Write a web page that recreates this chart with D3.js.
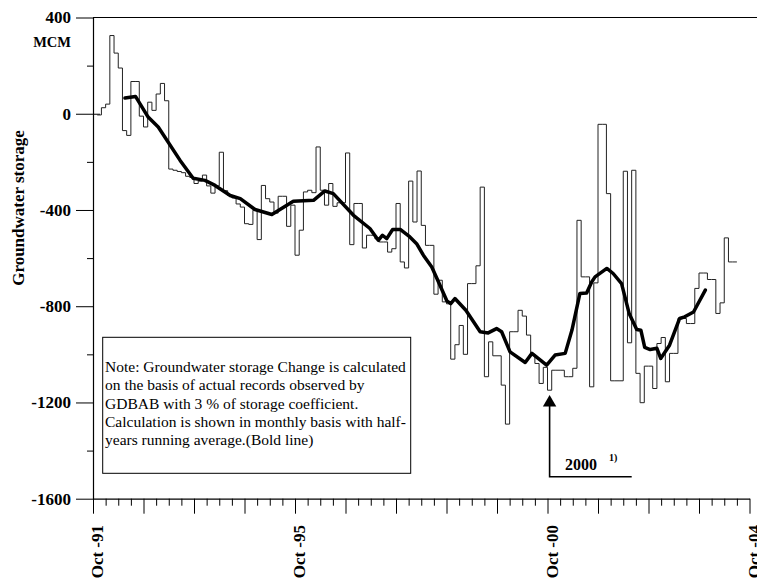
<!DOCTYPE html>
<html>
<head>
<meta charset="utf-8">
<script src="https://cdn.jsdelivr.net/npm/d3@7/dist/d3.min.js"></script>
<style>
  html, body { margin: 0; padding: 0; background: #fff; }
  svg { display: block; font-family: "Liberation Serif", "Times New Roman", serif; }
</style>
</head>
<body>
<svg id="chart" width="757" height="579"></svg>
<script>
// Monthly groundwater storage change (MCM); the first value is month 1 after Oct-91
const stepStartMonth = 1;
const storageMonthly = [
  -5, 25, 40, 325, 252, 190, -70, -90, 134, 134, -10, -55, 48, 14, 82, 126, 54,
  -230, -235, -240, -245, -260, -265, -290, -280, -255, -300, -330, -300, -160, -320, -340, -350, -375,
  -388, -457, -460, -401, -523, -298, -353, -367, -413, -343, -343, -468, -380, -588, -484, -325,
  -318, -328, -138, -318, -380, -290, -385, -370, -370, -163, -544, -373, -373, -558, -505, -505,
  -520, -533, -533, -575, -561, -373, -616, -641, -280, -450, -238, -464, -547, -547, -750, -692,
  -782, -790, -1020, -960, -880, -1000, -706, -706, -632, -305, -1093, -948, -1006, -1006, -1128, -1290,
  -906, -906, -817, -841, -920, -1000, -1038, -1121, -1054, -1149, -1066, -1066, -1066, -1093, -1093, -1058,
  -443, -678, -678, -1135, -703, -44, -44, -332, -1110, -1110, -1110, -239, -952, -235, -1079, -1201,
  -1049, -1049, -1142, -955, -930, -1114, -996, -996, -851, -851, -872, -872, -726, -662, -662, -689,
  -689, -830, -786, -516, -616, -616
];

// Half-year running average (bold line): month offset from Oct-91 and value
const avgMonths = [
  7.6, 10.1, 13.1, 15.5, 20.7, 23.8, 26.6, 29.0, 32.6, 35.0, 38.5, 42.5, 47.6, 52.4, 55.1, 57.1,
  61.9, 65.8, 67.8, 68.8, 69.8, 71.2, 73.0, 75.3, 76.9, 78.5, 80.5, 82.1, 84.1, 85.0, 86.0, 88.6,
  92.0, 93.9, 95.9, 97.1, 99.1, 102.7, 104.3, 107.8, 109.8, 112.2, 113.8, 115.7, 117.3, 118.5, 119.3,
  122.1, 123.6, 125.6, 127.4, 129.2, 130.2, 131.1, 132.4, 134.0, 134.9, 137.0, 139.4, 140.6, 142.7, 145.5
];
const avgValues = [
  65, 72, -14, -55, -194, -268, -277, -298, -340, -353, -398, -419, -364, -360, -321, -332,
  -422, -477, -526, -505, -519, -481, -481, -512, -540, -588, -637, -699, -778, -789, -768, -817,
  -906, -911, -893, -906, -990, -1034, -996, -1045, -1003, -996, -900, -747, -745, -699, -678,
  -643, -664, -706, -830, -897, -900, -971, -980, -975, -1017, -962, -851, -844, -824, -733
];

const yTickValues = [400, 0, -400, -800, -1200, -1600];
const yTickLabels = ["400", "0", "-400", "-800", "-1200", "-1600"];
const xLabelMonths = [0, 48, 108, 156];
const xLabels = ["Oct -91", "Oct -95", "Oct -00", "Oct -04"];
const noteLines = [
  "Note: Groundwater storage Change is calculated",
  "on the basis of actual records observed by",
  "GDBAB with 3 % of storage coefficient.",
  "Calculation is shown in monthly basis with half-",
  "years running average.(Bold line)"
];
const arrowLabel = "2000";
const arrowNote = "1)";

const svg = d3.select("#chart");

const x = d3.scaleLinear().domain([0, 156]).range([93, 749.5]);
const y = d3.scaleLinear().domain([-1600, 400]).range([498.7, 17.5]);

// Top frame line at the 400 level
svg.append("line")
  .attr("x1", 93).attr("x2", 757)
  .attr("y1", y(400)).attr("y2", y(400))
  .attr("stroke", "#000").attr("stroke-width", 1.2);

// Y axis: major ticks every 400 with labels, minor every 200
const yAxis = d3.axisLeft(y)
  .tickValues(d3.range(-1600, 401, 200))
  .tickSizeInner(17).tickSizeOuter(0).tickPadding(5)
  .tickFormat(d => {
    const i = yTickValues.indexOf(d);
    return i >= 0 ? yTickLabels[i] : "";
  });
const gy = svg.append("g").attr("transform", `translate(${x(0)},0)`).call(yAxis);
gy.select(".domain").attr("stroke", "#000").attr("stroke-width", 1.2);
gy.selectAll(".tick line")
  .attr("stroke", "#000").attr("stroke-width", 1)
  .attr("x2", d => (yTickValues.includes(d) ? -17 : -6));
gy.selectAll(".tick").filter(d => d === 0).select("line").attr("x1", 7);
gy.selectAll(".tick text")
  .attr("font-family", "Liberation Serif, Times New Roman, serif")
  .attr("font-size", 17).attr("font-weight", "bold").attr("fill", "#000");

// Unit label
svg.append("text")
  .attr("x", 71).attr("y", 47)
  .attr("text-anchor", "end")
  .attr("font-size", 14.5).attr("font-weight", "bold")
  .text("MCM");

// Y axis title
svg.append("text")
  .attr("transform", "translate(24,208) rotate(-90)")
  .attr("text-anchor", "middle")
  .attr("font-size", 17).attr("font-weight", "bold")
  .text("Groundwater storage");

// X axis: quarterly minor ticks, yearly major ticks
const xAxis = d3.axisBottom(x)
  .tickValues(d3.range(0, 157, 3))
  .tickSizeInner(7).tickSizeOuter(0)
  .tickFormat("");
const gx = svg.append("g").attr("transform", `translate(0,${y(-1600)})`).call(xAxis);
gx.select(".domain").attr("stroke", "#000").attr("stroke-width", 1.2);
gx.selectAll(".tick line")
  .attr("stroke", "#000").attr("stroke-width", 1)
  .attr("y2", d => (d % 12 === 0 ? 15 : 7));

// Rotated date labels
svg.append("g").selectAll("text")
  .data(xLabelMonths)
  .join("text")
  .attr("transform", d => `translate(${x(d) + 10},525) rotate(-90)`)
  .attr("text-anchor", "end")
  .attr("font-size", 17).attr("font-weight", "bold")
  .text((d, i) => xLabels[i]);

// Monthly storage as a step line
const stepPoints = storageMonthly.map((v, i) => [stepStartMonth + i, v]);
stepPoints.push([stepStartMonth + storageMonthly.length, storageMonthly[storageMonthly.length - 1]]);
svg.append("path")
  .datum(stepPoints)
  .attr("fill", "none")
  .attr("stroke", "#222")
  .attr("stroke-width", 1)
  .attr("d", d3.line().x(d => x(d[0])).y(d => y(d[1])).curve(d3.curveStepAfter));

// Running average (bold line)
const avgPoints = avgMonths.map((m, i) => [m, avgValues[i]]);
svg.append("path")
  .datum(avgPoints)
  .attr("fill", "none")
  .attr("stroke", "#000")
  .attr("stroke-width", 3.5)
  .attr("stroke-linejoin", "round")
  .attr("stroke-linecap", "round")
  .attr("d", d3.line().x(d => x(d[0])).y(d => y(d[1])));

// Note box
const note = svg.append("g");
note.append("rect")
  .attr("x", 102.7).attr("y", 337.3)
  .attr("width", 308).attr("height", 136)
  .attr("fill", "#fff").attr("stroke", "#000").attr("stroke-width", 1);
note.selectAll("text")
  .data(noteLines)
  .join("text")
  .attr("x", 105)
  .attr("y", (d, i) => 372 + i * 18.3)
  .attr("font-size", 15.5)
  .text(d => d);

// Arrow marking the year 2000
const ax = x(108.5);
const arrow = svg.append("g");
arrow.append("path")
  .attr("d", `M${ax},405 L${ax},476.7 L631.7,476.7`)
  .attr("fill", "none").attr("stroke", "#000").attr("stroke-width", 1.6);
arrow.append("path")
  .attr("d", `M${ax},395 L${ax - 6.7},406.5 L${ax + 6.7},406.5 Z`)
  .attr("fill", "#000");
arrow.append("text")
  .attr("x", 565).attr("y", 469.5)
  .attr("font-size", 16).attr("font-weight", "bold")
  .text(arrowLabel);
arrow.append("text")
  .attr("x", 609).attr("y", 461)
  .attr("font-size", 10).attr("font-weight", "bold")
  .text(arrowNote);
</script>
</body>
</html>
